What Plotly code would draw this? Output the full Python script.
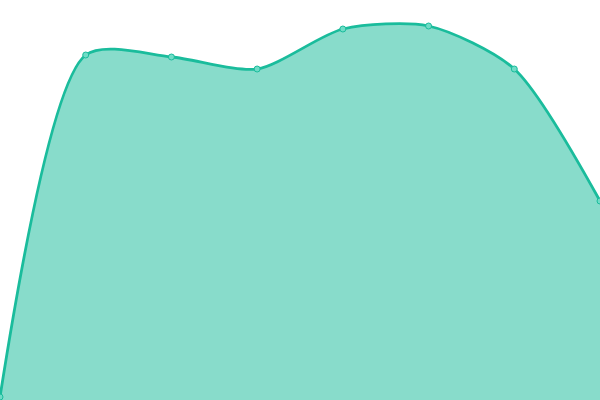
import plotly.graph_objects as go

x_vals = [0, 1, 2, 3, 4, 5, 6, 7]
y_vals = [3, 345, 343, 331, 371, 374, 331, 199]

fig = go.Figure()
fig.add_trace(go.Scatter(
    x=x_vals, y=y_vals,
    mode='lines+markers',
    fill='tozeroy',
    fillcolor='rgba(26,188,156,0.52)',
    line=dict(color='#1abc9c', width=2.8, shape='spline', smoothing=0.75),
    marker=dict(size=6, color='#6fdcc6', line=dict(color='#1abc9c', width=1)),
    cliponaxis=False,
))

fig.update_layout(
    width=600, height=400,
    margin=dict(l=0, r=0, t=0, b=0),
    paper_bgcolor='white', plot_bgcolor='white',
    showlegend=False,
    xaxis=dict(visible=False, range=[0, 7]),
    yaxis=dict(visible=False, range=[0, 400]),
)
# page has a default body margin, drop it so the chart fills the window
fig.write_html("out.html", config={"displayModeBar": False},
               post_script="document.body.style.margin='0';document.body.style.overflow='hidden';")
